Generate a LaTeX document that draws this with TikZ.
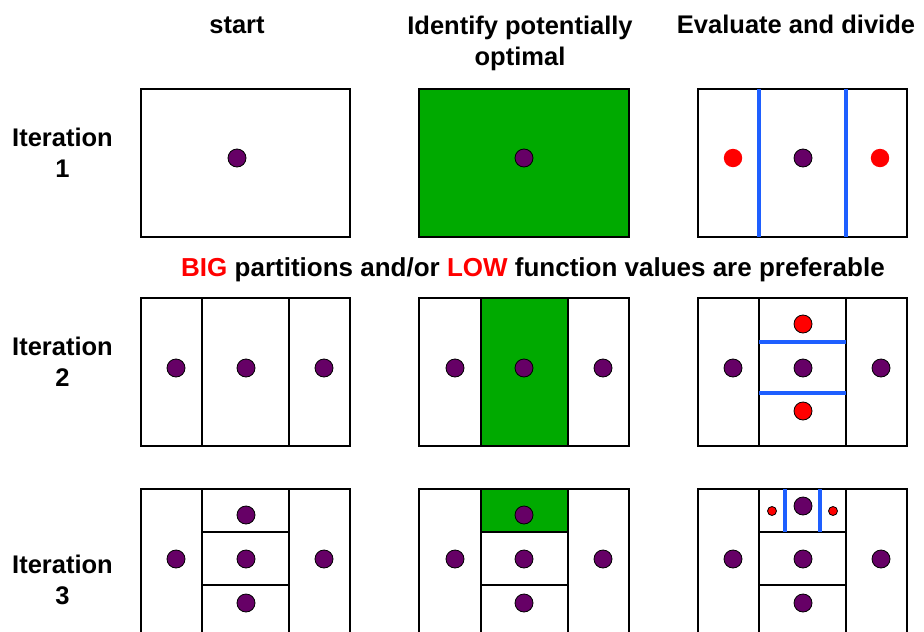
\documentclass[tikz,border=0pt]{standalone}
\usepackage{fontspec}
\setmainfont{Liberation Sans}
\usetikzlibrary{positioning}
\definecolor{boxgreen}{RGB}{0,170,0}
\definecolor{dotpurple}{RGB}{102,0,102}
\definecolor{cutblue}{RGB}{30,95,255}

\begin{document}
\begin{tikzpicture}[x=1pt,y=-1pt,
    box/.style={draw=black,line width=1.6pt},
    cell/.style={draw=black,line width=1.2pt},
    point/.style={draw=black,line width=0.8pt,fill=dotpurple},
    newpoint/.style={draw=black,line width=0.8pt,fill=red},
    cut/.style={draw=cutblue,line width=4.5pt},
    heading/.style={font=\fontsize{25.5}{31}\selectfont\bfseries,align=center,anchor=base}]
    \useasboundingbox (0,0) rectangle (924,632);
    \clip (0,0) rectangle (924,632);
    % titles
    \node[heading] (start) at (237,33) {start};
    \node[heading] (identify) at (520,65) {Identify potentially\\optimal};
    \node[heading] (evaluate) at (796,33) {Evaluate and divide};
    \node[heading] (iterone) at (62.5,177) {Iteration\\1};
    \node[heading] (itertwo) at (62.5,386) {Iteration\\2};
    \node[heading] (iterthree) at (62.5,604) {Iteration\\3};
    \node[heading,font=\fontsize{26}{31}\selectfont\bfseries] (rule) at (533,276) {\textcolor{red}{BIG} partitions and/or \textcolor{red}{LOW} function values are preferable};
    % iteration 1
    \draw[box] (141,89) rectangle (350,237);
    \fill[point] (237,158) circle (9);
    \draw[box,fill=boxgreen] (419,89) rectangle (629,237);
    \fill[point] (524,158) circle (9);
    \draw[box] (698,89) rectangle (907,237);
    \draw[cut] (759,89) -- (759,237);
    \draw[cut] (846,89) -- (846,237);
    \fill[red] (733,158) circle (9.2);
    \fill[red] (880,158) circle (9.2);
    \fill[point] (803,158) circle (9);
    % iteration 2
    \draw[box] (141,298) rectangle (350,446);
    \draw[cell] (202,298) -- (202,446) (289,298) -- (289,446);
    \fill[point] (176,368) circle (9);
    \fill[point] (246,368) circle (9);
    \fill[point] (324,368) circle (9);
    \draw[box] (419,298) rectangle (629,446);
    \draw[cell,fill=boxgreen] (481,298) rectangle (568,446);
    \fill[point] (455,368) circle (9);
    \fill[point] (524,368) circle (9);
    \fill[point] (603,368) circle (9);
    \draw[box] (698,298) rectangle (907,446);
    \draw[cell] (759,298) -- (759,446) (846,298) -- (846,446);
    \draw[cut] (759,342) -- (846,342);
    \draw[cut] (759,393) -- (846,393);
    \fill[newpoint] (803,324) circle (9);
    \fill[newpoint] (803,411) circle (9);
    \fill[point] (733,368) circle (9);
    \fill[point] (803,368) circle (9);
    \fill[point] (881,368) circle (9);
    % iteration 3
    \draw[box] (141,489) rectangle (350,640);
    \draw[cell] (202,489) -- (202,640) (289,489) -- (289,640);
    \draw[cell] (202,532) -- (289,532) (202,585) -- (289,585);
    \fill[point] (246,515) circle (9);
    \fill[point] (246,559) circle (9);
    \fill[point] (246,603) circle (9);
    \fill[point] (176,559) circle (9);
    \fill[point] (324,559) circle (9);
    \draw[box] (419,489) rectangle (629,640);
    \draw[cell,fill=boxgreen] (481,489) rectangle (568,532);
    \draw[cell] (481,489) -- (481,640) (568,489) -- (568,640);
    \draw[cell] (481,585) -- (568,585);
    \fill[point] (524,515) circle (9);
    \fill[point] (524,559) circle (9);
    \fill[point] (524,603) circle (9);
    \fill[point] (455,559) circle (9);
    \fill[point] (603,559) circle (9);
    \draw[box] (698,489) rectangle (907,640);
    \draw[cell] (759,489) -- (759,640) (846,489) -- (846,640);
    \draw[cell] (759,532) -- (846,532) (759,585) -- (846,585);
    \draw[cut] (785,489) -- (785,532);
    \draw[cut] (820,489) -- (820,532);
    \fill[newpoint] (772,511) circle (4.5);
    \fill[newpoint] (833,511) circle (4.5);
    \fill[point] (803,506) circle (9);
    \fill[point] (803,559) circle (9);
    \fill[point] (803,603) circle (9);
    \fill[point] (733,559) circle (9);
    \fill[point] (881,559) circle (9);
\end{tikzpicture}
\end{document}
